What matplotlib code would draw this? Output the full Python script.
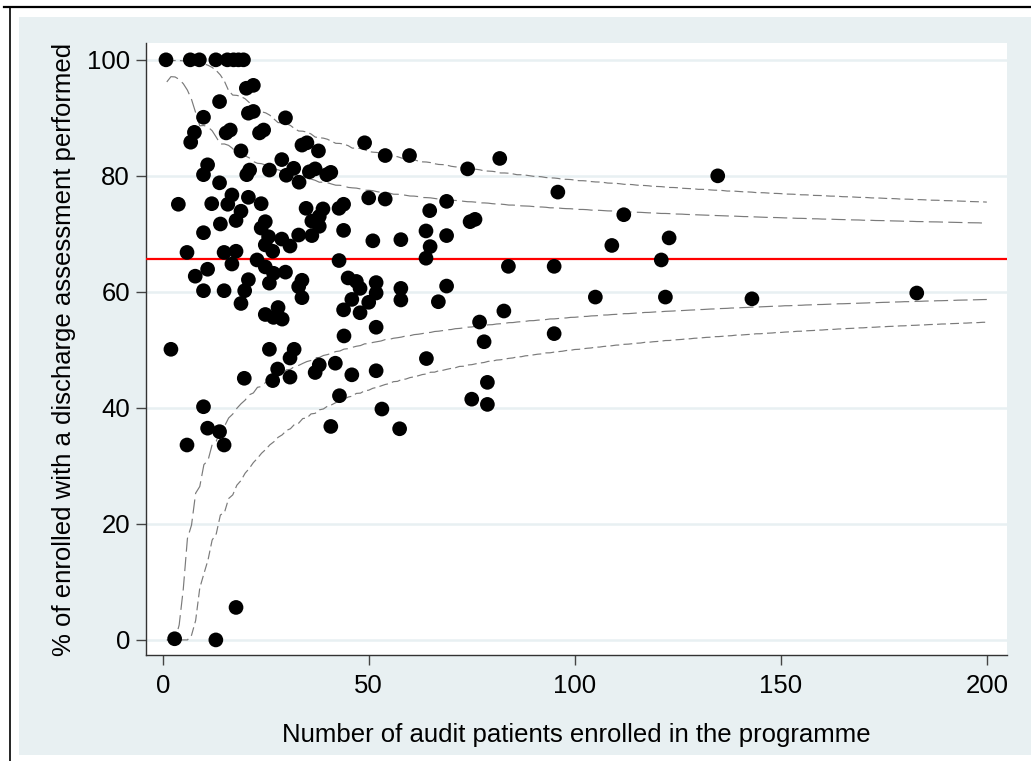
import math
import numpy as np
import matplotlib
matplotlib.use("Agg")
import matplotlib.pyplot as plt
from matplotlib.patches import Rectangle
from matplotlib.lines import Line2D

plt.rcParams['font.family'] = ['Liberation Sans', 'DejaVu Sans']

# 프로그램별 등록 환자 수 (x) 와 퇴원 평가 시행 비율 % (y)
enrolled = [
    0.8, 6.7, 8.9, 12.9, 15.7, 17.2, 18.4, 19.6,
    20.3, 22.0, 13.8, 9.9, 20.8, 22.0, 29.8,
    7.7, 6.8, 15.4, 16.4, 23.5, 24.5, 19.0, 49.0,
    33.8, 35.0, 37.8, 54.0, 59.9, 81.8, 28.9,
    10.9, 9.9, 20.4, 21.1, 25.9, 30.0, 31.8, 33.1,
    35.6, 37.0, 39.8, 40.8, 74.0, 134.7, 13.8, 95.9,
    16.8, 15.8, 20.8, 23.9, 11.9, 3.8, 50.0, 54.0,
    19.0, 17.8, 14.0, 9.9, 24.9, 23.9, 25.7, 24.9,
    26.7, 28.9, 30.9, 33.0, 34.8, 36.2, 38.0, 38.9,
    36.2, 38.0, 42.8, 43.9, 43.9, 64.8, 68.9, 111.9,
    74.6, 75.8, 51.0, 57.8, 63.9, 68.9, 64.9, 109.0, 122.9,
    5.9, 14.9, 17.8, 16.8, 22.9, 24.9, 26.9, 29.8,
    10.9, 7.9, 42.8, 63.9, 121.0, 83.9, 95.0,
    20.8, 19.9, 19.0, 9.9, 14.9, 25.9, 33.8, 33.0, 33.8,
    45.0, 47.0, 47.9, 45.9, 43.9, 47.9, 50.0,
    51.8, 51.8, 51.8, 57.8, 57.8, 68.9, 66.9,
    105.0, 122.0, 143.0, 183.0,
    24.9, 28.0, 26.9, 29.0, 82.8, 76.9, 78.0, 95.0,
    44.0, 2.0, 25.9, 30.9, 31.9, 64.0,
    51.8, 45.9, 41.9, 19.8, 27.9, 26.7, 30.9, 37.0, 38.0,
    78.8, 75.0, 78.8, 42.9, 53.2,
    9.9, 10.9, 13.8, 14.9, 5.9, 40.8, 57.5,
    2.9, 12.9, 17.8,
]
pct_assessed = [
    100, 100, 100, 100, 100, 100, 100, 100,
    95.1, 95.6, 92.8, 90.1, 90.8, 91.1, 90.0,
    87.5, 85.8, 87.4, 87.9, 87.4, 87.9, 84.3, 85.7,
    85.3, 85.7, 84.3, 83.5, 83.5, 83.0, 82.8,
    81.9, 80.2, 80.2, 81.0, 81.0, 80.1, 81.3, 78.9,
    80.7, 81.2, 80.2, 80.6, 81.2, 80.0, 78.8, 77.2,
    76.7, 75.1, 76.3, 75.2, 75.2, 75.1, 76.2, 76.0,
    73.9, 72.3, 71.7, 70.2, 72.1, 71.0, 69.5, 68.1,
    67.0, 69.1, 67.9, 69.8, 74.4, 72.2, 73.0, 74.3,
    69.7, 71.3, 74.4, 75.1, 70.6, 74.0, 75.6, 73.3,
    72.1, 72.5, 68.8, 69.0, 70.5, 69.7, 67.8, 68.0, 69.3,
    66.8, 66.8, 67.0, 64.8, 65.5, 64.3, 63.2, 63.4,
    63.9, 62.7, 65.4, 65.8, 65.5, 64.4, 64.4,
    62.1, 60.2, 58.0, 60.2, 60.2, 61.5, 62.0, 60.9, 59.0,
    62.4, 61.8, 60.6, 58.7, 56.9, 56.4, 58.2,
    61.6, 59.8, 53.9, 60.6, 58.6, 61.0, 58.3,
    59.1, 59.1, 58.8, 59.8,
    56.1, 57.3, 55.6, 55.3, 56.7, 54.8, 51.4, 52.8,
    52.4, 50.1, 50.1, 48.6, 50.1, 48.5,
    46.4, 45.7, 47.7, 45.1, 46.7, 44.7, 45.3, 46.1, 47.4,
    44.4, 41.5, 40.6, 42.1, 39.8,
    40.2, 36.5, 35.9, 33.6, 33.6, 36.8, 36.4,
    0.2, 0.0, 5.6,
]

target_pct = 65.6
# 관리 한계 (95%, 99.8%)
inner_probs = (0.025, 0.975)
outer_probs = (0.001, 0.999)
n_max = 200


def binomial_limit(n, p0, q):
    """정확 이항분포 분위수를 보간하여 한계를 계산합니다 (Spiegelhalter 방식)."""
    k = np.arange(n + 1)
    log_pmf = np.array([math.lgamma(n + 1) - math.lgamma(i + 1) - math.lgamma(n - i + 1)
                        for i in k]) + k * math.log(p0) + (n - k) * math.log(1 - p0)
    pmf = np.exp(log_pmf)
    cdf = np.cumsum(pmf)
    cdf[-1] = 1.0
    r = int(np.argmax(cdf >= q))
    f_r = cdf[r]
    f_prev = cdf[r - 1] if r > 0 else 0.0
    alpha = (f_r - q) / (f_r - f_prev)
    return float(np.clip((r - alpha) / n, 0, 1)) * 100


ns = np.arange(1, n_max + 1)
p0 = target_pct / 100

fig = plt.figure(figsize=(10.31, 7.61), dpi=100)
fig.patch.set_facecolor('white')

# 그래프 영역 배경과 바깥 테두리
W, H = 1031, 761
fig.patches.append(Rectangle((19 / W, 6 / H), 1 - 19 / W, (755 - 17) / H,
                             transform=fig.transFigure, facecolor='#e8f0f2',
                             edgecolor='none', zorder=-10))
fig.lines.append(Line2D([4 / W, 1], [1 - 7 / H, 1 - 7 / H], transform=fig.transFigure,
                        color='black', linewidth=1.6, zorder=-5))
fig.lines.append(Line2D([9.5 / W, 9.5 / W], [0, 1 - 7 / H], transform=fig.transFigure,
                        color='black', linewidth=1.2, zorder=-5))

ax = fig.add_axes([146 / W, 1 - 655 / H, (1007 - 146) / W, (655 - 43) / H])
ax.set_zorder(1)
ax.set_facecolor('white')
ax.set_xlim(-4.05, 204.9)
ax.set_ylim(-2.6, 102.9)

for yv in range(0, 101, 20):
    ax.axhline(yv, color='#e8f0f2', linewidth=1.8, zorder=0)

# 95% 한계는 긴 점선, 99.8% 한계는 짧은 점선
for (lo_q, hi_q), dash in ((inner_probs, (12, 4.5)), (outer_probs, (7.5, 3.6))):
    lo = [binomial_limit(n, p0, lo_q) for n in ns]
    hi = [binomial_limit(n, p0, hi_q) for n in ns]
    ax.plot(ns, lo, color='#7a7a7a', linewidth=0.85, dashes=dash, zorder=2)
    ax.plot(ns, hi, color='#7a7a7a', linewidth=0.85, dashes=dash, zorder=2)

ax.axhline(target_pct, color='red', linewidth=1.6, zorder=3)

ax.scatter(enrolled, pct_assessed, s=112, color='black', edgecolors='none', zorder=4)

for side in ('top', 'right'):
    ax.spines[side].set_visible(False)
for side in ('left', 'bottom'):
    ax.spines[side].set_color('#333333')
    ax.spines[side].set_linewidth(1.0)

ax.set_xticks(range(0, 201, 50))
ax.set_yticks(range(0, 101, 20))
ax.tick_params(axis='both', direction='out', length=7.5, width=1.0, color='#444444',
               labelsize=18.5)
ax.tick_params(axis='x', pad=6)
ax.tick_params(axis='y', pad=4)

ax.set_xlabel('Number of audit patients enrolled in the programme', fontsize=18.5, labelpad=18)
ax.set_ylabel('% of enrolled with a discharge assessment performed', fontsize=18.5, labelpad=8)

fig.savefig('out.png', dpi=100, facecolor=fig.get_facecolor())
